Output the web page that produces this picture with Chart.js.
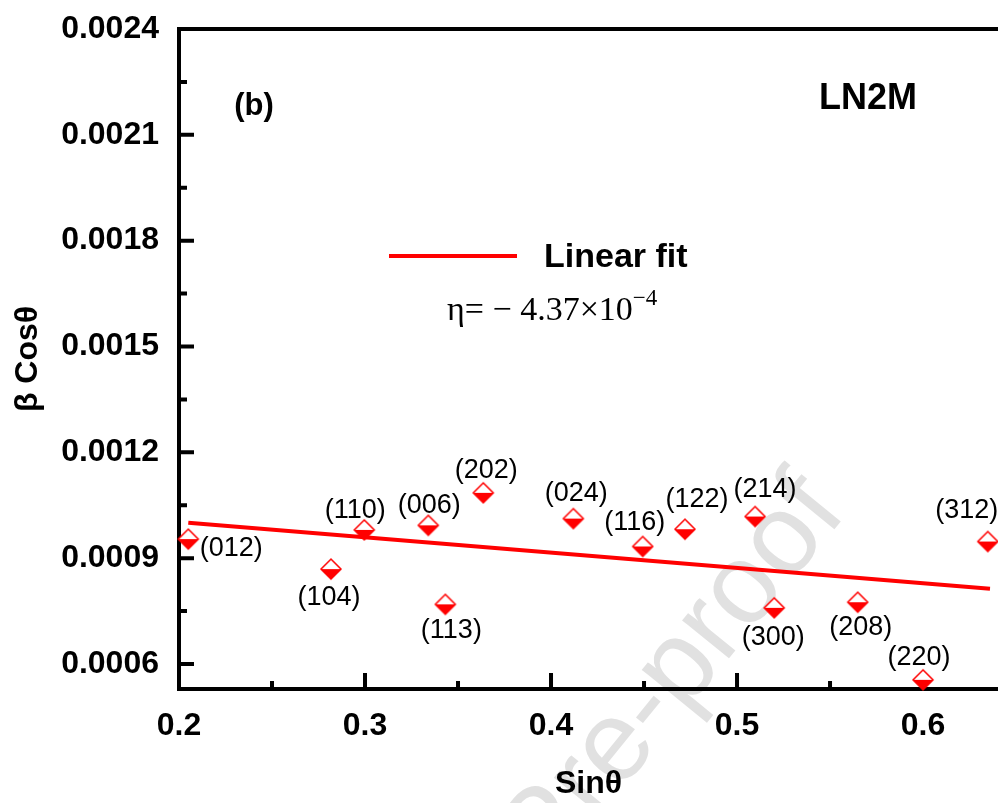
<!DOCTYPE html>
<html>
<head>
<meta charset="utf-8">
<script src="https://cdn.jsdelivr.net/npm/chart.js@4.4.1/dist/chart.umd.min.js"></script>
<style>
  html, body { margin: 0; padding: 0; background: #ffffff; }
  #wrap { width: 998px; height: 803px; }
</style>
</head>
<body>
<div id="wrap"><canvas id="c" width="998" height="803"></canvas></div>
<script>
// ---------------- data ----------------
const hkl = ['(012)','(104)','(110)','(006)','(113)','(202)','(024)','(116)','(122)','(214)','(300)','(208)','(220)','(312)'];
const sinTheta = [0.205, 0.2817, 0.2996, 0.334, 0.3432, 0.3636, 0.412, 0.4493, 0.472, 0.5097, 0.520, 0.5649, 0.600, 0.6348];
const betaCos  = [0.000954, 0.000869, 0.000980, 0.000993, 0.000769, 0.001085, 0.001012, 0.000933, 0.000982, 0.001018, 0.000759, 0.000775, 0.000555, 0.000947];
const fitX = [0.205, 0.636];
const fitY = [0.0010005, 0.000813];
const xTicks = [0.2, 0.3, 0.4, 0.5, 0.6];
const xMinorTicks = [0.25, 0.35, 0.45, 0.55];
const yTicks = [0.0006, 0.0009, 0.0012, 0.0015, 0.0018, 0.0021, 0.0024];
const yMinorTicks = [0.00075, 0.00105, 0.00135, 0.00165, 0.00195, 0.00225];

// label placement (offsets from each point, px) -- layout only
const labelOffsets = [[43,9],[-2,28],[-9,-19],[1,-20],[6,26],[3,-22],[3,-25],[-8,-24],[12,-30],[10,-27],[-1,30],[3,25],[-4,-22],[-21,-31]];

const RED = '#ff0000';
const SANS = '"Liberation Sans", Arial, Helvetica, sans-serif';
const SERIF = '"Liberation Serif", "Times New Roman", serif';

function makeMarker(r) {
  const s = 2 * r + 4;
  const c = document.createElement('canvas');
  c.width = s; c.height = s;
  const g = c.getContext('2d');
  const m = s / 2;
  g.beginPath(); g.moveTo(m - r, m); g.lineTo(m + r, m); g.lineTo(m, m + r); g.closePath();
  g.fillStyle = RED; g.fill();
  g.beginPath(); g.moveTo(m - r, m); g.lineTo(m, m - r); g.lineTo(m + r, m); g.closePath();
  g.fillStyle = '#ffffff'; g.fill();
  g.beginPath(); g.moveTo(m, m - r); g.lineTo(m + r, m); g.lineTo(m, m + r); g.lineTo(m - r, m); g.closePath();
  g.strokeStyle = RED; g.lineWidth = 1.5; g.stroke();
  return c;
}
const marker = makeMarker(10);

const decorations = {
  id: 'decorations',
  beforeDraw(chart) {
    const ctx = chart.ctx;
    ctx.save();
    ctx.fillStyle = '#ffffff';
    ctx.fillRect(0, 0, chart.width, chart.height);
    // watermark
    const em = 114;
    ctx.font = em + 'px ' + SANS;
    ctx.fillStyle = 'rgb(225,225,225)';
    const w1 = ctx.measureText('Journal Pre').width;
    const w2 = ctx.measureText('-').width;
    ctx.translate(648, 709);
    ctx.rotate(-50.8 * Math.PI / 180);
    ctx.textBaseline = 'alphabetic';
    ctx.textAlign = 'left';
    ctx.fillText('Journal Pre-proof', -(w1 + w2 / 2), 0.27 * em);
    ctx.restore();
  },
  beforeDatasetsDraw(chart) {
    const {ctx, chartArea: a, scales: {x, y}} = chart;
    ctx.save();
    ctx.strokeStyle = '#000000';
    ctx.lineWidth = 4;
    ctx.beginPath();
    ctx.moveTo(a.left, a.top - 2); ctx.lineTo(a.left, a.bottom + 2);
    ctx.moveTo(a.left - 2, a.bottom); ctx.lineTo(a.right, a.bottom);
    ctx.moveTo(a.left - 2, a.top); ctx.lineTo(a.right, a.top);
    yTicks.forEach(v => { const p = y.getPixelForValue(v); ctx.moveTo(a.left, p); ctx.lineTo(a.left + 15, p); });
    yMinorTicks.forEach(v => { const p = y.getPixelForValue(v); ctx.moveTo(a.left, p); ctx.lineTo(a.left + 8, p); });
    xTicks.forEach(v => { const p = x.getPixelForValue(v); ctx.moveTo(p, a.bottom); ctx.lineTo(p, a.bottom - 16); });
    xMinorTicks.forEach(v => { const p = x.getPixelForValue(v); ctx.moveTo(p, a.bottom); ctx.lineTo(p, a.bottom - 8); });
    ctx.stroke();
    ctx.restore();
  },
  afterDraw(chart) {
    const {ctx, scales: {x, y}} = chart;
    ctx.save();
    // point labels
    ctx.fillStyle = '#000000';
    ctx.font = '27px ' + SANS;
    ctx.textAlign = 'center';
    ctx.textBaseline = 'middle';
    hkl.forEach((t, i) => {
      const px = x.getPixelForValue(sinTheta[i]);
      const py = y.getPixelForValue(betaCos[i]);
      ctx.fillText(t, px + labelOffsets[i][0], py + labelOffsets[i][1]);
    });
    // panel labels
    ctx.font = 'bold 31px ' + SANS;
    ctx.fillText('(b)', 254, 106);
    ctx.font = 'bold 36px ' + SANS;
    ctx.fillText('LN2M', 868, 99);
    // legend
    const fit = chart.data.datasets[1];
    ctx.strokeStyle = fit.borderColor;
    ctx.lineWidth = fit.borderWidth;
    ctx.beginPath(); ctx.moveTo(389, 256); ctx.lineTo(517, 256); ctx.stroke();
    ctx.textAlign = 'left';
    ctx.font = 'bold 34px ' + SANS;
    ctx.fillText(fit.label, 544, 258);
    ctx.textBaseline = 'alphabetic';
    ctx.font = '34px ' + SERIF;
    const main = '\u03B7= \u2212 4.37\u00D710';
    ctx.fillText(main, 447, 320);
    const mw = ctx.measureText(main).width;
    ctx.font = '23px ' + SERIF;
    ctx.fillText('\u22124', 447 + mw, 305);
    ctx.restore();
  }
};

new Chart(document.getElementById('c'), {
  type: 'scatter',
  data: {
    datasets: [
      {
        label: 'Data',
        data: sinTheta.map((v, i) => ({x: v, y: betaCos[i]})),
        pointStyle: marker,
        pointRadius: 10,
        pointHoverRadius: 10,
        clip: false,
        order: 0
      },
      {
        type: 'line',
        label: 'Linear fit',
        data: fitX.map((v, i) => ({x: v, y: fitY[i]})),
        borderColor: RED,
        borderWidth: 4,
        pointRadius: 0,
        fill: false,
        showLine: true,
        order: 1
      }
    ]
  },
  options: {
    responsive: false,
    animation: false,
    events: [],
    layout: { autoPadding: false, padding: { left: 0, right: 0, top: 29, bottom: 0 } },
    plugins: { legend: { display: false }, tooltip: { enabled: false } },
    scales: {
      x: {
        type: 'linear',
        min: 0.2, max: 0.6403,
        grid: { display: false, drawTicks: false },
        border: { display: false },
        afterBuildTicks: s => { s.ticks = xTicks.map(v => ({value: v})); },
        afterFit: s => { s.height = 114; s.paddingLeft = 0; s.paddingRight = 0; },
        ticks: {
          padding: 18, maxRotation: 0, autoSkip: false, color: '#000',
          font: { family: SANS, size: 32, weight: 'bold' },
          callback: v => v.toFixed(1)
        },
        title: {
          display: true, text: 'Sin\u03B8', color: '#000',
          font: { family: SANS, size: 32, weight: 'bold' },
          padding: { top: 0, bottom: 0 }
        }
      },
      y: {
        type: 'linear',
        min: 0.000529, max: 0.0024,
        grid: { display: false, drawTicks: false },
        border: { display: false },
        afterBuildTicks: s => { s.ticks = yTicks.map(v => ({value: v})); },
        afterFit: s => { s.width = 179; s.paddingTop = 0; s.paddingBottom = 0; },
        ticks: {
          padding: 20, autoSkip: false, color: '#000',
          font: { family: SANS, size: 32, weight: 'bold' },
          callback: v => v.toFixed(4)
        },
        title: {
          display: true, text: '\u03B2 Cos\u03B8', color: '#000',
          font: { family: SANS, size: 32, weight: 'bold' },
          padding: { top: 9, bottom: 0 }
        }
      }
    }
  },
  plugins: [decorations]
});
</script>
</body>
</html>
